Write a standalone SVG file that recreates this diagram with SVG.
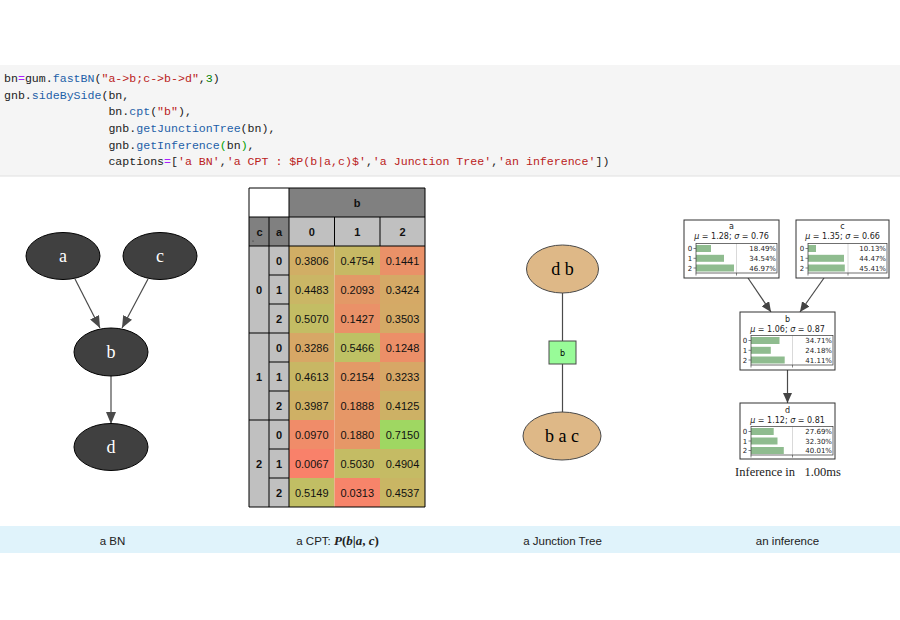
<svg xmlns="http://www.w3.org/2000/svg" width="900" height="620" viewBox="0 0 900 620">
<style>
.code{font-family:"Liberation Mono","DejaVu Sans Mono",monospace;font-size:11.6px;fill:#222}
.kw{fill:#1d5fa8}.st{fill:#ba2121}.op{fill:#aa22ff}.nm{fill:#008000}.br{fill:#00a000}
.bn ellipse{fill:#404040;stroke:#000;stroke-width:1}
.bn text{font-family:"Liberation Serif","Times New Roman",serif;font-size:18px;fill:#fff;text-anchor:middle}
.edge{stroke:#4a4a4a;stroke-width:1.2;fill:none}
.tb{font-family:"Liberation Sans",Arial,sans-serif;font-size:11px;fill:#111;text-anchor:middle}
.tbh{font-family:"Liberation Sans",Arial,sans-serif;font-size:11px;font-weight:bold;fill:#111;text-anchor:middle}
.tl{stroke:#000;stroke-width:1;fill:none}
.jt ellipse{fill:#deb887;stroke:#4a4a4a;stroke-width:1}
.jt text{font-family:"Liberation Serif","Times New Roman",serif;font-size:18px;fill:#000;text-anchor:middle}
.sep rect{fill:#98fb98;stroke:#4a4a4a;stroke-width:1}
.sep text{font-family:"DejaVu Sans",sans-serif;font-size:8px;fill:#000;text-anchor:middle}
.inf .box{fill:#fff;stroke:#333;stroke-width:1}
.inf .frm{fill:none;stroke:#333;stroke-width:0.7}
.inf .grid{stroke:#cfcfcf;stroke-width:0.8}
.inf .bar{fill:#8fbc8f}
.inf .tk{stroke:#333;stroke-width:0.6}
.inf text{font-family:"DejaVu Sans",sans-serif;font-size:7.5px;fill:#222}
.inf .t{text-anchor:middle;font-size:8px}
.inf .p{text-anchor:end;font-size:7px}
.inf .l{text-anchor:middle;font-size:7px}
.cap{font-family:"Liberation Sans",Arial,sans-serif;font-size:11.5px;fill:#222;text-anchor:middle}
.math{font-family:"Liberation Serif","Times New Roman",serif;font-weight:bold;font-size:13px}
</style>
<defs>
<marker id="ah" markerUnits="userSpaceOnUse" markerWidth="12" markerHeight="10" refX="12" refY="5" orient="auto">
<path d="M0,0 L12,5 L0,10 Z" fill="#4a4a4a"/>
</marker>
<marker id="ahs" markerUnits="userSpaceOnUse" markerWidth="10" markerHeight="9" refX="10" refY="4.5" orient="auto">
<path d="M0,0 L10,4.5 L0,9 Z" fill="#444"/>
</marker>
</defs>
<rect width="900" height="620" fill="#fff"/>

<!-- code cell -->
<g id="code">
<rect x="0" y="65" width="900" height="111" fill="#f5f5f5"/>
<line x1="0" y1="176" x2="900" y2="176" stroke="#e0e0e0"/>
<text class="code" x="4" y="82">bn<tspan class="op">=</tspan>gum.<tspan class="kw">fastBN</tspan>(<tspan class="st">"a->b;c->b->d"</tspan>,<tspan class="nm">3</tspan>)</text>
<text class="code" x="4" y="98.7">gnb.<tspan class="kw">sideBySide</tspan>(bn,</text>
<text class="code" x="108.4" y="115.3">bn.<tspan class="kw">cpt</tspan>(<tspan class="st">"b"</tspan>),</text>
<text class="code" x="108.4" y="132">gnb.<tspan class="kw">getJunctionTree</tspan>(bn),</text>
<text class="code" x="108.4" y="148.7">gnb.<tspan class="kw">getInference</tspan><tspan class="br">(</tspan>bn<tspan class="br">)</tspan>,</text>
<text class="code" x="108.4" y="165.3">captions<tspan class="op">=</tspan>[<tspan class="st">'a BN'</tspan>,<tspan class="st">'a CPT : $P(b|a,c)$'</tspan>,<tspan class="st">'a Junction Tree'</tspan>,<tspan class="st">'an inference'</tspan>])</text>
</g>

<!-- BN -->
<g id="bn-edges">
<line class="edge" x1="75" y1="279" x2="100" y2="328" marker-end="url(#ah)"/>
<line class="edge" x1="148" y1="279" x2="122" y2="328" marker-end="url(#ah)"/>
<line class="edge" x1="111" y1="376" x2="111" y2="424" marker-end="url(#ah)"/>
</g>
<g id="bn-a" class="bn"><ellipse cx="63" cy="256" rx="37" ry="23.5"/><text x="63" y="262">a</text></g>
<g id="bn-c" class="bn"><ellipse cx="160" cy="256" rx="37" ry="23.5"/><text x="160" y="262">c</text></g>
<g id="bn-b" class="bn"><ellipse cx="111" cy="352" rx="37" ry="24"/><text x="111" y="358">b</text></g>
<g id="bn-d" class="bn"><ellipse cx="111" cy="447" rx="37" ry="23.5"/><text x="111" y="453">d</text></g>

<!-- CPT table -->
<g id="cpt">
<rect x="249" y="188" width="40" height="29" fill="#fff"/>
<rect x="289" y="188" width="136" height="29" fill="#808080"/>
<rect x="249" y="217" width="40" height="29" fill="#808080"/>
<rect x="289" y="217" width="136" height="29" fill="#c0c0c0"/>
<rect x="249" y="246" width="40" height="261" fill="#c0c0c0"/>
<g>
<rect x="289" y="246" width="45.5" height="29" fill="#D1AE65"/><rect x="334.5" y="246" width="45.5" height="29" fill="#C7B964"/><rect x="380" y="246" width="45" height="29" fill="#EA9168"/>
<rect x="289" y="275" width="45.5" height="29" fill="#CAB665"/><rect x="334.5" y="275" width="45.5" height="29" fill="#E39967"/><rect x="380" y="275" width="45" height="29" fill="#D5A966"/>
<rect x="289" y="304" width="45.5" height="29" fill="#C3BD64"/><rect x="334.5" y="304" width="45.5" height="29" fill="#EA9168"/><rect x="380" y="304" width="45" height="29" fill="#D4AA66"/>
<rect x="289" y="333" width="45.5" height="29" fill="#D7A766"/><rect x="334.5" y="333" width="45.5" height="29" fill="#BEC164"/><rect x="380" y="333" width="45" height="29" fill="#EC8F68"/>
<rect x="289" y="362" width="45.5" height="29" fill="#C8B764"/><rect x="334.5" y="362" width="45.5" height="29" fill="#E39A67"/><rect x="380" y="362" width="45" height="29" fill="#D7A766"/>
<rect x="289" y="391" width="45.5" height="29" fill="#CFB065"/><rect x="334.5" y="391" width="45.5" height="29" fill="#E69767"/><rect x="380" y="391" width="45" height="29" fill="#CDB165"/>
<rect x="289" y="420" width="45.5" height="29" fill="#F08C69"/><rect x="334.5" y="420" width="45.5" height="29" fill="#E69767"/><rect x="380" y="420" width="45" height="29" fill="#9FD762"/>
<rect x="289" y="449" width="45.5" height="29" fill="#F9816A"/><rect x="334.5" y="449" width="45.5" height="29" fill="#C4BC64"/><rect x="380" y="449" width="45" height="29" fill="#C5BB64"/>
<rect x="289" y="478" width="45.5" height="29" fill="#C1BE64"/><rect x="334.5" y="478" width="45.5" height="29" fill="#F7846A"/><rect x="380" y="478" width="45" height="29" fill="#C9B664"/>
</g>
<path class="tl" d="M249,188H425V507H249Z M249,217H425 M249,246H425 M289,188V507 M269,217V507 M334.5,217V246 M380,217V246 M249,333H289 M249,420H289 M269,275H289 M269,304H289 M269,362H289 M269,391H289 M269,449H289 M269,478H289"/>
<text class="tbh" x="357" y="206.5">b</text>
<text class="tbh" x="259.5" y="235.5">c</text>
<circle cx="253" cy="241" r="0.6" fill="#222"/>
<text class="tbh" x="279" y="235.5">a</text>
<text class="tbh" x="311.75" y="235.5">0</text><text class="tbh" x="357.25" y="235.5">1</text><text class="tbh" x="402.5" y="235.5">2</text>
<text class="tbh" x="259" y="294">0</text><text class="tbh" x="259" y="381">1</text><text class="tbh" x="259" y="468">2</text>
<text class="tbh" x="279" y="264.5">0</text><text class="tbh" x="279" y="293.5">1</text><text class="tbh" x="279" y="322.5">2</text>
<text class="tbh" x="279" y="351.5">0</text><text class="tbh" x="279" y="380.5">1</text><text class="tbh" x="279" y="409.5">2</text>
<text class="tbh" x="279" y="438.5">0</text><text class="tbh" x="279" y="467.5">1</text><text class="tbh" x="279" y="496.5">2</text>
<text class="tb" x="311.75" y="264.5">0.3806</text><text class="tb" x="357.25" y="264.5">0.4754</text><text class="tb" x="402.5" y="264.5">0.1441</text>
<text class="tb" x="311.75" y="293.5">0.4483</text><text class="tb" x="357.25" y="293.5">0.2093</text><text class="tb" x="402.5" y="293.5">0.3424</text>
<text class="tb" x="311.75" y="322.5">0.5070</text><text class="tb" x="357.25" y="322.5">0.1427</text><text class="tb" x="402.5" y="322.5">0.3503</text>
<text class="tb" x="311.75" y="351.5">0.3286</text><text class="tb" x="357.25" y="351.5">0.5466</text><text class="tb" x="402.5" y="351.5">0.1248</text>
<text class="tb" x="311.75" y="380.5">0.4613</text><text class="tb" x="357.25" y="380.5">0.2154</text><text class="tb" x="402.5" y="380.5">0.3233</text>
<text class="tb" x="311.75" y="409.5">0.3987</text><text class="tb" x="357.25" y="409.5">0.1888</text><text class="tb" x="402.5" y="409.5">0.4125</text>
<text class="tb" x="311.75" y="438.5">0.0970</text><text class="tb" x="357.25" y="438.5">0.1880</text><text class="tb" x="402.5" y="438.5">0.7150</text>
<text class="tb" x="311.75" y="467.5">0.0067</text><text class="tb" x="357.25" y="467.5">0.5030</text><text class="tb" x="402.5" y="467.5">0.4904</text>
<text class="tb" x="311.75" y="496.5">0.5149</text><text class="tb" x="357.25" y="496.5">0.0313</text><text class="tb" x="402.5" y="496.5">0.4537</text>
</g>

<!-- Junction tree -->
<g id="jt-edges">
<line class="edge" x1="562.5" y1="293" x2="562.5" y2="341"/>
<line class="edge" x1="562.5" y1="364" x2="562.5" y2="412"/>
</g>
<g id="jt-db" class="jt"><ellipse cx="562.5" cy="269" rx="36" ry="24"/><text x="562.5" y="275">d b</text></g>
<g id="jt-sep" class="sep"><rect x="549" y="341" width="27" height="23"/><text x="562.5" y="355.5">b</text></g>
<g id="jt-bac" class="jt"><ellipse cx="562" cy="436" rx="39" ry="24"/><text x="562" y="442">b a c</text></g>

<!-- Inference -->
<g id="inf-edges">
<line class="edge" x1="748" y1="278" x2="771" y2="312" marker-end="url(#ahs)"/>
<line class="edge" x1="824" y1="278" x2="800" y2="312" marker-end="url(#ahs)"/>
<line class="edge" x1="787.5" y1="370" x2="787.5" y2="403" marker-end="url(#ahs)"/>
</g>
<g id="inf-a" class="inf" transform="translate(684,220)">
<rect class="box" x="0" y="0" width="95" height="58"/>
<text class="t" x="47.5" y="8.5">a</text>
<text class="t" x="47.5" y="18.5"><tspan font-style="italic">μ</tspan> = 1.28; <tspan font-style="italic">σ</tspan> = 0.76</text>
<line class="grid" x1="52.5" y1="23.5" x2="52.5" y2="53"/>
<rect class="bar" x="12" y="25" width="15" height="7"/>
<rect class="bar" x="12" y="34.8" width="28" height="7"/>
<rect class="bar" x="12" y="44.5" width="38" height="7"/>
<rect class="frm" x="12" y="23.5" width="81" height="29.5"/>
<path class="tk" d="M9.5,28.5H12M9.5,38.3H12M9.5,48H12M52.5,53V55.5M12,53V55.5"/>
<text class="l" x="6" y="31">0</text><text class="l" x="6" y="40.8">1</text><text class="l" x="6" y="50.5">2</text>
<text class="p" x="92" y="31">18.49%</text><text class="p" x="92" y="40.8">34.54%</text><text class="p" x="92" y="50.5">46.97%</text>
</g>
<g id="inf-c" class="inf" transform="translate(796,220)">
<rect class="box" x="0" y="0" width="93" height="58"/>
<text class="t" x="46.5" y="8.5">c</text>
<text class="t" x="46.5" y="18.5"><tspan font-style="italic">μ</tspan> = 1.35; <tspan font-style="italic">σ</tspan> = 0.66</text>
<line class="grid" x1="52" y1="23.5" x2="52" y2="53"/>
<rect class="bar" x="12" y="25" width="8" height="7"/>
<rect class="bar" x="12" y="34.8" width="36" height="7"/>
<rect class="bar" x="12" y="44.5" width="36.8" height="7"/>
<rect class="frm" x="12" y="23.5" width="79" height="29.5"/>
<path class="tk" d="M9.5,28.5H12M9.5,38.3H12M9.5,48H12M52,53V55.5M12,53V55.5"/>
<text class="l" x="6" y="31">0</text><text class="l" x="6" y="40.8">1</text><text class="l" x="6" y="50.5">2</text>
<text class="p" x="90" y="31">10.13%</text><text class="p" x="90" y="40.8">44.47%</text><text class="p" x="90" y="50.5">45.41%</text>
</g>
<g id="inf-b" class="inf" transform="translate(740,312)">
<rect class="box" x="0" y="0" width="95" height="58"/>
<text class="t" x="47.5" y="9.5">b</text>
<text class="t" x="47.5" y="19.5"><tspan font-style="italic">μ</tspan> = 1.06; <tspan font-style="italic">σ</tspan> = 0.87</text>
<line class="grid" x1="52.5" y1="23.5" x2="52.5" y2="53"/>
<rect class="bar" x="11" y="25" width="28.5" height="7"/>
<rect class="bar" x="11" y="34.8" width="19.8" height="7"/>
<rect class="bar" x="11" y="44.5" width="33.7" height="7"/>
<rect class="frm" x="11" y="23.5" width="82" height="29.5"/>
<path class="tk" d="M8.5,28.5H11M8.5,38.3H11M8.5,48H11M52.5,53V55.5M11,53V55.5"/>
<text class="l" x="5" y="31">0</text><text class="l" x="5" y="40.8">1</text><text class="l" x="5" y="50.5">2</text>
<text class="p" x="92" y="31">34.71%</text><text class="p" x="92" y="40.8">24.18%</text><text class="p" x="92" y="50.5">41.11%</text>
</g>
<g id="inf-d" class="inf" transform="translate(740,403)">
<rect class="box" x="0" y="0" width="95" height="56"/>
<text class="t" x="47.5" y="10">d</text>
<text class="t" x="47.5" y="19.5"><tspan font-style="italic">μ</tspan> = 1.12; <tspan font-style="italic">σ</tspan> = 0.81</text>
<line class="grid" x1="52.5" y1="23.5" x2="52.5" y2="52"/>
<rect class="bar" x="11" y="25" width="22.7" height="7"/>
<rect class="bar" x="11" y="34.5" width="26.5" height="7"/>
<rect class="bar" x="11" y="44" width="32.8" height="7"/>
<rect class="frm" x="11" y="23.5" width="82" height="28.5"/>
<path class="tk" d="M8.5,28.5H11M8.5,38H11M8.5,47.5H11M52.5,52V54.5M11,52V54.5"/>
<text class="l" x="5" y="31">0</text><text class="l" x="5" y="40.5">1</text><text class="l" x="5" y="50">2</text>
<text class="p" x="92" y="31">27.69%</text><text class="p" x="92" y="40.5">32.30%</text><text class="p" x="92" y="50">40.01%</text>
</g>
<text x="788" y="476" xml:space="preserve" font-family="Liberation Serif,Times New Roman,serif" font-size="12.5px" fill="#222" text-anchor="middle">Inference in   1.00ms</text>

<!-- captions -->
<g id="captions">
<rect x="0" y="526" width="900" height="27" fill="#e0f3fb"/>
<text class="cap" x="112.5" y="545">a BN</text>
<text class="cap" x="337.5" y="545">a CPT: <tspan class="math" font-style="italic">P</tspan><tspan class="math">(</tspan><tspan class="math" font-style="italic">b</tspan><tspan class="math">|</tspan><tspan class="math" font-style="italic">a</tspan><tspan class="math">, </tspan><tspan class="math" font-style="italic">c</tspan><tspan class="math">)</tspan></text>
<text class="cap" x="562.5" y="545">a Junction Tree</text>
<text class="cap" x="787.5" y="545">an inference</text>
</g>
</svg>
